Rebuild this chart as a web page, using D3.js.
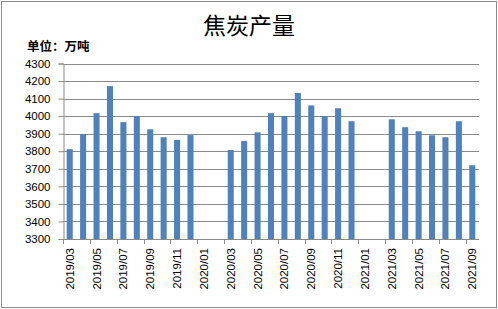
<!DOCTYPE html>
<html>
<head>
<meta charset="utf-8">
<script src="https://cdn.jsdelivr.net/npm/d3@7"></script>
<style>
  body { margin: 0; background: #fff; }
  svg text { font-family: "Liberation Sans", Arial, sans-serif; }
</style>
</head>
<body>
<div id="chart"></div>
<script>
// months shown on the category axis
var months = [
  "2019/03","2019/04","2019/05","2019/06","2019/07","2019/08","2019/09","2019/10","2019/11","2019/12",
  "2020/01","2020/02","2020/03","2020/04","2020/05","2020/06","2020/07","2020/08","2020/09","2020/10","2020/11","2020/12",
  "2021/01","2021/02","2021/03","2021/04","2021/05","2021/06","2021/07","2021/08","2021/09"
];
// coke output, 10k tonnes (Jan/Feb not reported)
var output = [
  3812, 3898, 4017, 4171, 3966, 4001, 3925, 3880, 3865, 3892,
  null, null, 3807, 3858, 3908, 4017, 4001, 4132, 4061, 4001, 4045, 3971,
  null, null, 3982, 3937, 3914, 3891, 3880, 3971, 3720
];
var yTicks = [3300,3400,3500,3600,3700,3800,3900,4000,4100,4200,4300];
var title = "焦炭产量";
var unit = "单位：万吨";

function init(){
  var W = 498, H = 309;
  var left = 63, right = 479, top = 63.5, bottom = 239;

  var svg = d3.select("#chart").append("svg")
    .attr("width", W).attr("height", H);

  // outer frame
  svg.append("rect")
    .attr("x", 1.5).attr("y", 1.5)
    .attr("width", W - 3).attr("height", H - 3)
    .attr("fill", "#fff").attr("stroke", "#8c8c8c");

  var x = d3.scaleBand()
    .domain(months)
    .range([left, right])
    .paddingInner(0.55)
    .paddingOuter(0.275);

  var y = d3.scaleLinear()
    .domain([3300, 4300])
    .range([bottom, top]);

  // gridlines
  svg.append("g").selectAll("line")
    .data(yTicks.slice(1))
    .enter().append("line")
    .attr("x1", left).attr("x2", right)
    .attr("y1", function(d){ return Math.round(y(d)) + 0.5; })
    .attr("y2", function(d){ return Math.round(y(d)) + 0.5; })
    .attr("stroke", "#8a8a8a");

  // y axis
  var yAxis = d3.axisLeft(y).tickValues(yTicks).tickFormat(d3.format("d"))
    .tickSize(5).tickPadding(8);
  var gy = svg.append("g")
    .attr("transform", "translate(" + (left + 0.5) + ",0)")
    .call(yAxis);
  gy.select(".domain").attr("stroke", "#8a8a8a");
  gy.selectAll(".tick line").attr("stroke", "#8a8a8a");
  gy.selectAll(".tick text")
    .style("font-size", "11.5px").attr("fill", "#000");

  // bars
  svg.append("g").selectAll("rect")
    .data(months.map(function(m, i){ return {m: m, v: output[i]}; })
          .filter(function(d){ return d.v != null; }))
    .enter().append("rect")
    .attr("x", function(d){ return x(d.m); })
    .attr("y", function(d){ return y(d.v); })
    .attr("width", x.bandwidth())
    .attr("height", function(d){ return y(3300) - y(d.v); })
    .attr("fill", "#4f81bd");

  // x axis line + ticks every two months
  var gx = svg.append("g");
  gx.append("line")
    .attr("x1", left).attr("x2", right)
    .attr("y1", Math.round(bottom) + 0.5).attr("y2", Math.round(bottom) + 0.5)
    .attr("stroke", "#8a8a8a");
  var step = x.step();
  gx.selectAll("line.tk")
    .data(months.filter(function(d, i){ return i % 2 === 0; }))
    .enter().append("line")
    .attr("class", "tk")
    .attr("x1", function(d){ return Math.round(x(d) - step * 0.275) + 0.5; })
    .attr("x2", function(d){ return Math.round(x(d) - step * 0.275) + 0.5; })
    .attr("y1", bottom).attr("y2", bottom + 5)
    .attr("stroke", "#8a8a8a");
  gx.selectAll("text")
    .data(months.filter(function(d, i){ return i % 2 === 0; }))
    .enter().append("text")
    .attr("transform", function(d){
      return "translate(" + (x(d) + x.bandwidth() / 2 + 4) + "," + (bottom + 9) + ") rotate(-90)";
    })
    .attr("text-anchor", "end")
    .style("font-size", "11.5px")
    .attr("fill", "#000")
    .text(function(d){ return d; });

  // title and unit
  svg.append("text")
    .attr("x", 249).attr("y", 34)
    .attr("text-anchor", "middle")
    .style("font-family", "'Noto Sans CJK SC', sans-serif")
    .style("font-size", "23px")
    .attr("fill", "#000")
    .text(title);

  svg.append("text")
    .attr("x", 27).attr("y", 51)
    .style("font-family", "'Noto Sans CJK SC', sans-serif")
    .style("font-size", "12.5px")
    .style("font-weight", "bold")
    .attr("fill", "#000")
    .text(unit);
}

window.onload = init;
</script>
</body>
</html>
